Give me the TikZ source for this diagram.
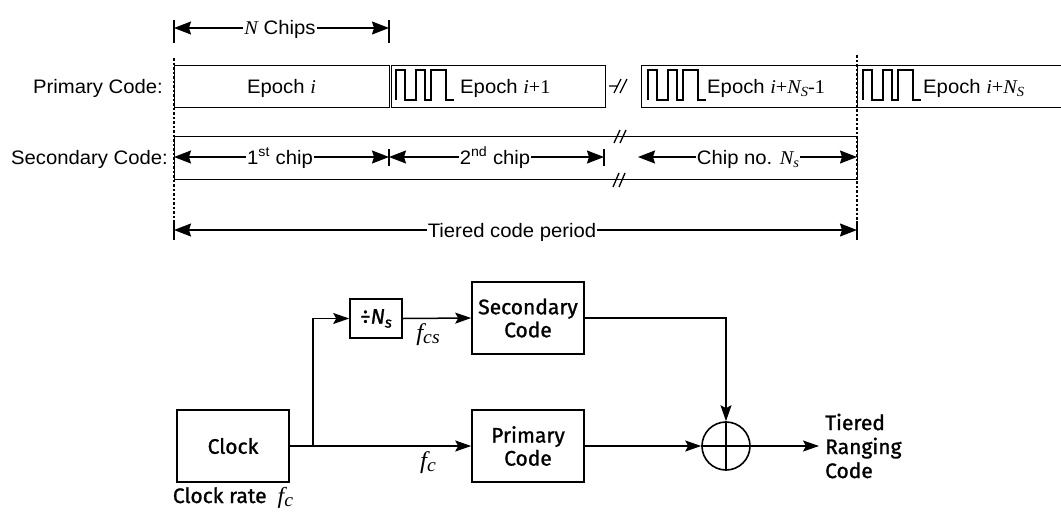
\documentclass[tikz,border=0pt]{standalone}
\usepackage{fontspec}
\setmainfont{Liberation Sans}[FakeStretch=1.04]
\newfontfamily\tms{Liberation Serif}[FakeStretch=1.04]
\newfontfamily\fira{Fira Sans}[FakeBold=1.2]
\usetikzlibrary{arrows.meta}
\newcommand{\mi}[1]{{\tms\itshape #1}}
\newcommand{\mr}[1]{{\tms #1}}
\newcommand{\lowsub}[1]{\raisebox{-0.35ex}{\fontsize{14}{14}\selectfont #1}}
\newcommand{\lowsubs}[1]{\raisebox{-0.35ex}{\fontsize{15}{15}\selectfont #1}}
\newcommand{\fsub}[1]{\raisebox{-0.3ex}{\fontsize{19}{19}\selectfont #1}}
\begin{document}
\begin{tikzpicture}[x=1pt,y=-1pt,
  topf/.style={font=\fontsize{19.5}{22}\selectfont},
  ebox/.style={draw, line width=1.4pt, minimum height=42pt, inner sep=0pt, anchor=north west},
  dimarr/.style={line width=1.3pt, {Stealth[length=17pt,width=13pt,inset=2pt]}-{Stealth[length=17pt,width=13pt,inset=2pt]}},
  tickl/.style={line width=1.3pt},
  dotv/.style={line width=1.4pt, dash pattern=on 2.5pt off 2pt},
  lab/.style={fill=white, inner sep=1.2pt, anchor=base, topf},
  blk/.style={draw, line width=1.6pt, minimum width=112pt, minimum height=72pt, inner sep=0pt,
     font=\fira\fontsize{21}{23}\selectfont, align=center},
  conn/.style={line width=1.5pt, -{Stealth[length=16pt,width=11pt,inset=3pt]}},
  wave/.pic={\draw[line width=1.3pt] (0,14)--(0,-16)--(9,-16)--(9,14)--(20,14)--(20,-16)--(29,-16)--(29,14)--(35,14)--(35,-16)--(50,-16)--(50,14)--(58,14);}
]
\useasboundingbox (0,0) rectangle (1061,512);

% dotted guides
\draw[dotv] (174,58) -- (174,222);
\draw[dotv] (857,55) -- (857,222);

% N chips
\coordinate (nL) at (174,28);
\coordinate (nR) at (389,28);
\draw[tickl] (174,20) -- (174,43);
\draw[tickl] (389,20) -- (389,43);
\draw[dimarr] (nL) -- (nR);
\node[lab] (nchips) at (280,34.5) {\mi{N} Chips};

% primary code row
\node[topf, anchor=base east, inner sep=0pt] (plab) at (163,93) {Primary Code:};
\node[ebox, minimum width=215pt] (e1) at (174,65) {};
\node[topf, anchor=base] (e1t) at (281.5,93) {Epoch \mi{i}};
\node[ebox, minimum width=214pt] (e2) at (391,65) {};
\pic at (396,86) {wave};
\node[topf, anchor=base west, inner sep=0pt] (e2t) at (460,93) {Epoch \mi{i}\mr{+1}};
\draw[line width=1.3pt] (609,86) -- (617,86) (614,93) -- (621,79) (620,93) -- (627,79);
\node[ebox, minimum width=216pt] (e3) at (641,65) {};
\pic at (648,86) {wave};
\node[topf, anchor=base west, inner sep=0pt] (e3t) at (707,93) {Epoch \mi{i}\mr{+}\mi{N}\lowsub{\mi{S}}\mr{-1}};
\node[ebox, minimum width=220pt] (e4) at (857,65) {};
\pic at (863,86) {wave};
\node[topf, anchor=base west, inner sep=0pt] (e4t) at (923,93) {Epoch \mi{i}\mr{+}\mi{N}\lowsub{\mi{S}}};

% secondary code row
\node[topf, anchor=base east, inner sep=0pt] (slab) at (168,164) {Secondary Code:};
\node[ebox, minimum width=683pt, minimum height=43pt] (srow) at (174,136) {};
\draw[line width=1.3pt] (614,143) -- (620,130) (620,143) -- (626,130);
\draw[line width=1.3pt] (613,187) -- (619,173) (619,187) -- (625,173);
\coordinate (c1L) at (174,157);
\coordinate (c1R) at (389,157);
\coordinate (c2R) at (604,157);
\coordinate (c3L) at (638,157);
\coordinate (c3R) at (857,157);
\draw[tickl] (389,149) -- (389,166);
\draw[tickl] (604,149) -- (604,166);
\draw[dimarr] (c1L) -- (c1R);
\draw[dimarr] (c1R) -- (c2R);
\draw[dimarr] (c3L) -- (c3R);
\node[lab] (t1) at (280,164) {1\textsuperscript{st} chip};
\node[lab] (t2) at (495,164) {2\textsuperscript{nd} chip};
\node[lab] (t3) at (748,164) {Chip no. \mi{N}\lowsub{\mi{s}}};

% tiered code period
\coordinate (pL) at (174,230);
\coordinate (pR) at (857,230);
\draw[tickl] (174,221) -- (174,240);
\draw[tickl] (857,221) -- (857,240);
\draw[dimarr] (pL) -- (pR);
\node[lab] (tp) at (512,237) {Tiered code period};

% block diagram
\node[blk] (clk) at (233,446) {Clock};
\node[blk, minimum width=52pt, minimum height=39pt] (div) at (376,318.5) {÷\itshape N\lowsubs{s}};
\node[blk] (sec) at (528,318) {Secondary\\Code};
\node[blk] (prim) at (528,446) {Primary\\Code};
\node[draw, circle, line width=1.6pt, minimum size=48pt, inner sep=0pt] (xor) at (726,446) {};
\draw[line width=1.6pt] (xor.north) -- (xor.south) (xor.west) -- (xor.east);
\coordinate (br) at (313,446);
\coordinate (outc) at (819,446);
\draw[conn] (clk.east) -- (prim.west);
\draw[conn] (br) |- (div.west);
\draw[conn] (div.east) -- (sec.west);
\draw[conn] (sec.east) -| (xor.north);
\draw[conn] (prim.east) -- (xor.west);
\draw[conn] (xor.east) -- (outc);
\node[anchor=west, align=left, inner sep=0pt, font=\fira\fontsize{21}{24}\selectfont] (outt) at (825,446) {Tiered\\Ranging\\Code};
\node[anchor=base, inner sep=0pt, font=\fontsize{24}{24}\selectfont] (fcs) at (428,340) {\mi{f}\fsub{\mi{cs}}};
\node[anchor=base, inner sep=0pt, font=\fontsize{24}{24}\selectfont] (fc) at (428,468) {\mi{f}\fsub{\mi{c}}};
\node[anchor=base, inner sep=0pt, font=\fira\fontsize{21}{22}\selectfont] (crate) at (233,503) {Clock rate \ {\fontsize{23}{23}\selectfont\mi{f}\fsub{\mi{c}}}};
\end{tikzpicture}
\end{document}
